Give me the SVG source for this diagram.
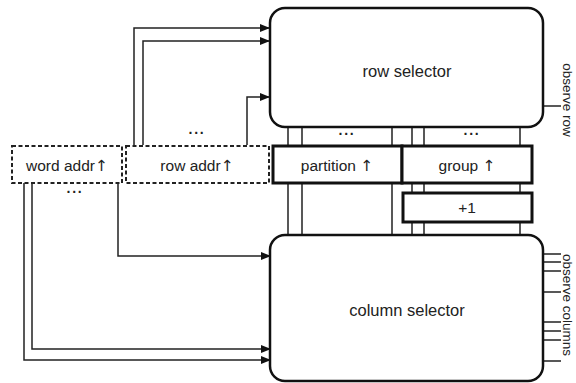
<svg xmlns="http://www.w3.org/2000/svg" width="576" height="383" viewBox="0 0 576 383">
<defs>
<marker id="ah" markerWidth="10" markerHeight="8" refX="9" refY="4" orient="auto" markerUnits="userSpaceOnUse">
<path d="M0,0 L10,4 L0,8 Z" fill="#111"/>
</marker>
<style>
text{font-family:"Liberation Sans",Arial,sans-serif;fill:#222;text-anchor:middle}
.up{font-family:"DejaVu Sans",sans-serif;fill:#222}
.lbl{font-size:15.5px}
.big{font-size:16.5px}
.side{font-size:13.5px}
.sel{fill:#fff;stroke:#111;stroke-width:2.5}
.reg{fill:#fff;stroke:#111;stroke-width:3}
.dash{fill:#fff;stroke:#222;stroke-width:2;stroke-dasharray:4,2.5}
.w{fill:none;stroke:#222;stroke-width:1.5}
.a{fill:none;stroke:#222;stroke-width:1.5;marker-end:url(#ah)}
.dots{font-size:14px;font-weight:bold;letter-spacing:1px}
</style>
</defs>
<g id="connectors">
<path class="a" d="M134,145 V28 H269"/>
<path class="a" d="M143,145 V41 H269"/>
<path class="a" d="M247,145 V97 H269"/>
<path class="a" d="M32,183 V349 H270"/>
<path class="a" d="M24,183 V360 H270"/>
<path class="a" d="M118,183 V256 H270"/>
<path class="w" d="M288,127 V146 M302,127 V146 M392,127 V146 M412,127 V146 M424,127 V146 M520,127 V146"/>
<path class="w" d="M288,183 V235 M302,183 V235 M392,183 V235"/>
<path class="w" d="M412,183 V193 M424,183 V193 M520,183 V193 M412,222 V235 M424,222 V235 M520,222 V235"/>
<path class="w" d="M543,106 H561"/>
<path class="w" d="M543,254 H561 M543,262 H561 M543,271 H561 M543,292 H561 M543,322 H561 M543,331 H561 M543,340 H561 M543,361 H561"/>
</g>
<g id="row-selector">
<rect class="sel" x="270" y="8" width="273" height="119" rx="15"/>
<text class="big" x="407" y="77">row selector</text>
</g>
<g id="column-selector">
<rect class="sel" x="270" y="235" width="273" height="146" rx="15"/>
<text class="big" x="407" y="316">column selector</text>
</g>
<g id="word-addr">
<rect class="dash" x="12" y="146" width="110" height="37"/>
<text class="lbl" x="67" y="171">word addr<tspan class="up">↑</tspan></text>
</g>
<g id="row-addr">
<rect class="dash" x="126" y="146" width="143" height="37"/>
<text class="lbl" x="197" y="171">row addr<tspan class="up">↑</tspan></text>
</g>
<g id="partition">
<rect class="reg" x="273" y="146" width="129" height="37"/>
<text class="lbl" x="337" y="171">partition <tspan class="up">↑</tspan></text>
</g>
<g id="group">
<rect class="reg" x="402" y="146" width="130" height="37"/>
<text class="lbl" x="467" y="171">group <tspan class="up">↑</tspan></text>
</g>
<g id="plus-one">
<rect class="reg" x="403" y="193" width="129" height="29"/>
<text class="lbl" x="467" y="213">+1</text>
</g>
<g id="ellipses">
<text class="dots" x="197" y="138">···</text>
<text class="dots" x="75" y="197">···</text>
<text class="dots" x="347" y="139">···</text>
<text class="dots" x="472" y="139">···</text>
</g>
<g id="output-labels">
<text class="side" transform="translate(563,100) rotate(90)">observe row</text>
<text class="side" transform="translate(563,305) rotate(90)">observe columns</text>
</g>
</svg>
